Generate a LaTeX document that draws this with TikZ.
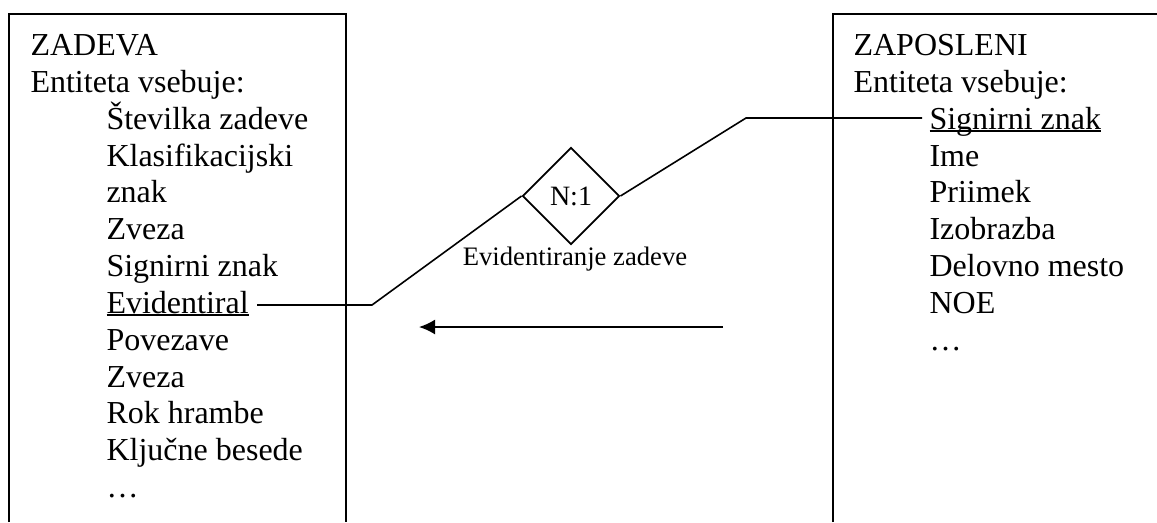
\documentclass[tikz,border=0pt]{standalone}
\usepackage{fontspec}
\setmainfont{Liberation Serif}
\usetikzlibrary{shapes.geometric, arrows.meta}
\newcommand{\keyattr}[1]{\setbox0\hbox{#1}\rlap{\rule[-1.3pt]{\wd0}{0.75pt}}\box0}

\begin{document}
\begin{tikzpicture}[x=0.375pt, y=-0.375pt, font=\fontsize{12}{13.8}\selectfont,
  attr/.style={anchor=base west, inner sep=0pt},
  box/.style={line width=0.75pt},
  link/.style={line width=0.6pt},
  rel/.style={diamond, draw, line width=0.7pt, minimum width=36.4pt, minimum height=36.4pt, inner sep=0pt, font=\fontsize{10.5}{12}\selectfont}]
\useasboundingbox (0,0) rectangle (1157,522);
% entity boxes, open at the bottom
\draw[box] (8.5,522) -- (8.5,14) -- (346,14) -- (346,522);
\draw[box] (833,522) -- (833,14) -- (1157,14);
% ZADEVA
\node[attr] (zad) at (30,55) {ZADEVA};
\node[attr] (zadent) at (30,92) {Entiteta vsebuje:};
\node[attr] (stev) at (106,129) {Številka zadeve};
\node[attr] (klas) at (106,166) {Klasifikacijski};
\node[attr] (znak) at (106,202) {znak};
\node[attr] (zveza) at (106,239) {Zveza};
\node[attr] (signz) at (106,276) {Signirni znak};
\node[attr] (evid) at (106,313) {\keyattr{Evidentiral}};
\node[attr] (pov) at (106,350) {Povezave};
\node[attr] (zvezab) at (106,387) {Zveza};
\node[attr] (rok) at (106,423) {Rok hrambe};
\node[attr] (klj) at (106,460) {Ključne besede};
\node[attr] (zaddots) at (106,497) {…};
% ZAPOSLENI
\node[attr] (zap) at (853,55) {ZAPOSLENI};
\node[attr] (zapent) at (853,92) {Entiteta vsebuje:};
\node[attr] (sig) at (929,129) {\keyattr{Signirni znak}};
\node[attr] (ime) at (929,166) {Ime};
\node[attr] (priim) at (929,202) {Priimek};
\node[attr] (izob) at (929,239) {Izobrazba};
\node[attr] (delo) at (929,276) {Delovno mesto};
\node[attr] (noe) at (929,313) {NOE};
\node[attr] (zapdots) at (929,350) {…};
% relationship
\node[rel] (evrel) at (571,196) {N:1};
\node[anchor=base, inner sep=0pt, font=\fontsize{10}{12}\selectfont] (evname) at (575,265) {Evidentiranje zadeve};
\draw[link] ([shift={(8,-8)}]evid.base east) -- (372,305) -- (evrel.west);
\draw[link] (evrel.east) -- (746,118) -- ([shift={(-7,-11)}]sig.base west);
% direction
\coordinate (dirfrom) at (723,327);
\coordinate (dirto) at (419,327);
\draw[link, -{Latex[length=6pt,width=5.6pt]}] (dirfrom) -- (dirto);
\end{tikzpicture}
\end{document}
